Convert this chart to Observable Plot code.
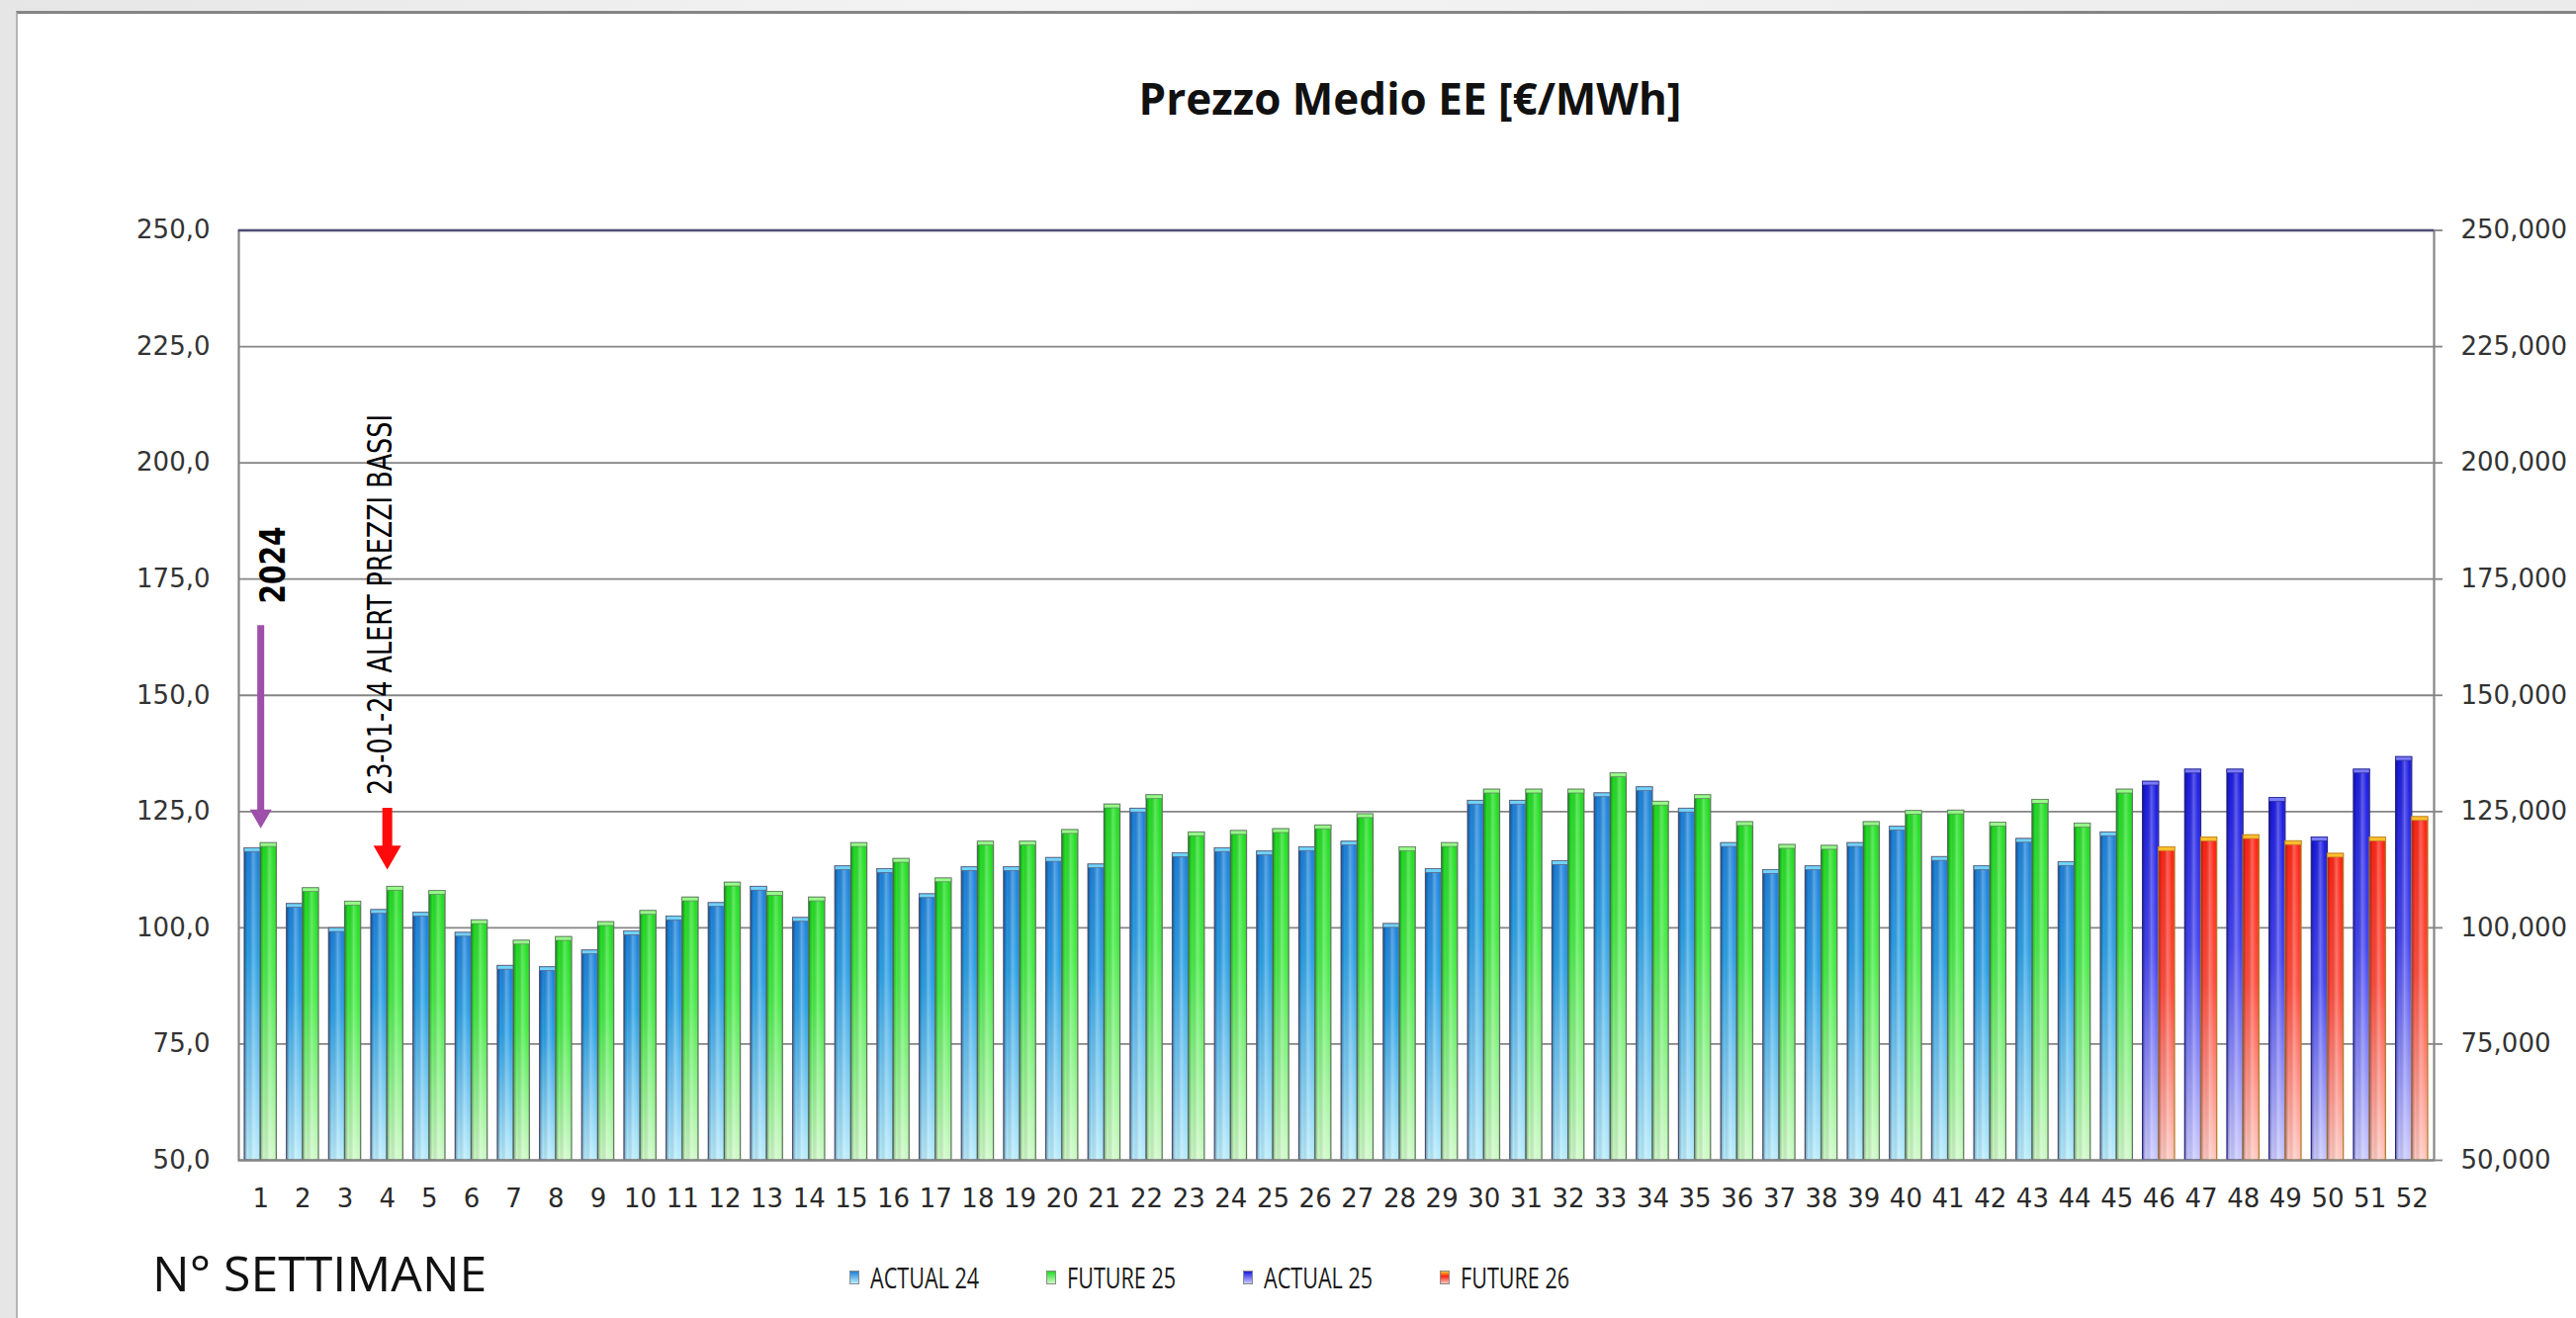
<!DOCTYPE html>
<html>
<head>
<meta charset="utf-8">
<script src="https://cdn.jsdelivr.net/npm/d3@7"></script>
<script src="https://cdn.jsdelivr.net/npm/@observablehq/plot@0.6"></script>
<style>
  html, body { margin: 0; padding: 0; background: #fff; }
  #page { position: relative; width: 2605px; height: 1333px; overflow: hidden;
          background: linear-gradient(90deg, #e6e6e6, #f4f4f4 40%, #ebebeb); }
  #frame { position: absolute; left: 16px; top: 11px; width: 2620px; height: 1400px;
           background: #fff; border-top: 3px solid #858585; border-left: 2px solid #b4b4b4; }
  #chart { position: absolute; left: 0; top: 0; }
  #title { position: absolute; left: 1426px; top: 77px; transform: translateX(-50%);
           font: 700 44px "Open Sans", sans-serif; line-height: 1; white-space: nowrap; color: #111; }
  #xlabel { position: absolute; left: 154px; top: 1262px; font: 400 50px "Open Sans", sans-serif;
            line-height: 1; white-space: nowrap; color: #111; }
  #legend { position: absolute; left: 859px; top: 1277px; display: flex;
            font: 400 30px "Open Sans", sans-serif; line-height: 1; color: #1a1a1a; }
  #legend .item { flex: none; width: 199px; display: flex; align-items: center; white-space: nowrap; }
  #legend .sw { flex: none; display: inline-block; width: 10px; height: 14px; margin-right: 11px;
                border: 1px solid #8a8a8a; box-sizing: border-box; }
  #legend .tx { display: inline-block; transform: scaleX(0.72); transform-origin: left center; }
</style>
</head>
<body>
<svg width="0" height="0" style="position:absolute">
  <defs>
    <linearGradient id="gA24" x1="0" y1="0" x2="0" y2="1">
      <stop offset="0" stop-color="#1c80da"/>
      <stop offset="0.35" stop-color="#2aa0e6"/>
      <stop offset="1" stop-color="#b8ecfc"/>
    </linearGradient>
    <linearGradient id="gF25" x1="0" y1="0" x2="0" y2="1">
      <stop offset="0" stop-color="#1fdd1f"/>
      <stop offset="0.4" stop-color="#46ec46"/>
      <stop offset="1" stop-color="#cff9c8"/>
    </linearGradient>
    <linearGradient id="gA25" x1="0" y1="0" x2="0" y2="1">
      <stop offset="0" stop-color="#1a1ae2"/>
      <stop offset="0.45" stop-color="#4444f0"/>
      <stop offset="1" stop-color="#c9c9ff"/>
    </linearGradient>
    <linearGradient id="gF26" x1="0" y1="0" x2="0" y2="1">
      <stop offset="0" stop-color="#ff2212"/>
      <stop offset="0.45" stop-color="#ff4b3b"/>
      <stop offset="1" stop-color="#ffc8c0"/>
    </linearGradient>
    <linearGradient id="shine" x1="0" y1="0" x2="1" y2="0">
      <stop offset="0" stop-color="#000030" stop-opacity="0.35"/>
      <stop offset="0.22" stop-color="#000000" stop-opacity="0"/>
      <stop offset="0.55" stop-color="#ffffff" stop-opacity="0.28"/>
      <stop offset="0.85" stop-color="#ffffff" stop-opacity="0"/>
      <stop offset="1" stop-color="#000000" stop-opacity="0.15"/>
    </linearGradient>
  </defs>
</svg>
<div id="page">
  <div id="frame"></div>
  <div id="chart"></div>
  <div id="title">Prezzo Medio EE [€/MWh]</div>
  <div id="xlabel">N° SETTIMANE</div>
  <div id="legend"></div>
</div>
<script>
// ---- data ----
const weeks = [1,2,3,4,5,6,7,8,9,10,11,12,13,14,15,16,17,18,19,20,21,22,23,24,25,26,
               27,28,29,30,31,32,33,34,35,36,37,38,39,40,41,42,43,44,45,46,47,48,49,50,51,52];
const actual24 = [117.1,105.1,99.9,103.8,103.2,98.9,91.8,91.5,95.1,99.2,102.4,105.3,108.8,102.1,113.2,
                  112.6,107.2,113.0,113.0,115.0,113.6,125.6,116.0,117.1,116.4,117.3,118.5,100.8,112.6,127.3,
                  127.3,114.3,128.9,130.2,125.6,118.2,112.4,113.2,118.2,121.7,115.2,113.2,119.1,114.1,120.5];
const future25 = [118.2,108.5,105.6,108.8,107.9,101.6,97.2,98.0,101.2,103.6,106.5,109.7,107.7,106.5,118.2,
                  114.8,110.6,118.5,118.5,121.0,126.5,128.5,120.5,120.8,121.2,122.0,124.4,117.3,118.2,129.7,
                  129.7,129.7,133.2,127.1,128.5,122.7,117.8,117.6,122.7,125.1,125.2,122.6,127.5,122.4,129.7];
const actual25 = [131.4,134.0,134.0,127.9,119.4,134.0,136.7];
const future26 = [117.3,119.4,119.9,118.6,115.9,119.4,123.8];
const seriesNames = ["ACTUAL 24", "FUTURE 25", "ACTUAL 25", "FUTURE 26"];
const yTicks = [50,75,100,125,150,175,200,225,250];
const noteYear = [{week: 1, value: 178, label: "2024"}];
const noteAlert = [{week: 4, value: 169.5, label: "23-01-24 ALERT PREZZI BASSI"}];
const arrowYear = [{week: 1, from: 165, to: 121.4}];
const arrowAlert = [{week: 4, from: 125.7, to: 112.5}];

// ---- tables ----
const rows = (vals, offset) => vals.map((v, i) => ({week: weeks[offset + i], value: v}));
const dA24 = rows(actual24, 0);
const dF25 = rows(future25, 0);
const dA25 = rows(actual25, actual24.length);
const dF26 = rows(future26, future25.length);

const HALF = 16.2;
function bars(data, side, grad, stroke, cap) {
  const inset = side === "left" ? {insetRight: HALF} : {insetLeft: HALF};
  return [
    Plot.barY(data, {x: "week", y1: 50, y2: "value", fill: `url(#${grad})`, stroke, strokeWidth: 1.2, ...inset}),
    Plot.barY(data, {x: "week", y1: 50, y2: "value", fill: "url(#shine)", ...inset}),
    Plot.barY(data, {x: "week", y1: d => d.value - 0.8, y2: "value", fill: cap, stroke, strokeWidth: 0.7, ...inset})
  ];
}

const narrow = "'Liberation Sans Narrow', 'Arial Narrow', 'DejaVu Sans Condensed', sans-serif";
const fmtLeft = d => d.toFixed(1).replace(".", ",");
const fmtRight = d => d + ",000";

const chart = Plot.plot({
  width: 2605,
  height: 1250,
  marginTop: 232.5,
  marginBottom: 77,
  marginLeft: 241,
  marginRight: 144,
  style: {background: "transparent", fontFamily: "'DejaVu Sans', Verdana, sans-serif", fontSize: "26px", color: "#333"},
  x: {type: "band", domain: weeks, paddingInner: 0.24, paddingOuter: 0.14, align: 0.5},
  y: {domain: [50, 250]},
  marks: [
    Plot.gridY(yTicks, {stroke: "#858585", strokeOpacity: 1, strokeWidth: 1.8}),
    ...bars(dA24, "left", "gA24", "#5f5f78", "#6fd4ff"),
    ...bars(dF25, "right", "gF25", "#667d66", "#96ff88"),
    ...bars(dA25, "left", "gA25", "#2a2a90", "#7a7aff"),
    ...bars(dF26, "right", "gF26", "#c08628", "#ffbf2a"),
    Plot.frame({stroke: "#858585", strokeWidth: 2.2}),
    Plot.ruleY([250], {stroke: "#4f4f78", strokeWidth: 2.4}),
    Plot.axisX({tickSize: 0, tickPadding: 29, label: null, fill: "#2a2a2a"}),
    Plot.axisY(yTicks, {anchor: "left", tickSize: 0, tickPadding: 29, tickFormat: fmtLeft, label: null, fill: "#333"}),
    Plot.axisY(yTicks, {anchor: "right", tickSize: 8, tickPadding: 19, tickFormat: fmtRight, label: null,
                        stroke: "#858585", strokeWidth: 1.8, fill: "#333"}),
    // annotations
    Plot.ruleX(arrowYear, {x: "week", y1: "from", y2: "to", stroke: "#9d4fa9", strokeWidth: 7, insetBottom: 10}),
    Plot.dot(arrowYear, {x: "week", y: "to", symbol: "triangle", r: 8.2, rotate: 180, dy: -12.7, fill: "#9d4fa9", stroke: "none"}),
    Plot.ruleX(arrowAlert, {x: "week", y1: "from", y2: "to", stroke: "#ff0a0a", strokeWidth: 10, insetBottom: 14}),
    Plot.dot(arrowAlert, {x: "week", y: "to", symbol: "triangle", r: 10.4, rotate: 180, dy: -16.2, fill: "#ff0a0a", stroke: "none"}),
    Plot.text(noteYear, {x: "week", y: "value", text: "label", rotate: -90, dx: 13, fontSize: 36, fontWeight: "bold",
                         fontFamily: narrow, fill: "#000", className: "note-year"}),
    Plot.text(noteAlert, {x: "week", y: "value", text: "label", rotate: -90, dx: -6, fontSize: 33,
                          fontFamily: narrow, fill: "#000", className: "note-alert"})
  ]
});
// squeeze the annotation text to the narrow proportions of the original
chart.querySelectorAll(".note-year text").forEach(t => {
  t.setAttribute("textLength", 78); t.setAttribute("lengthAdjust", "spacingAndGlyphs");
});
chart.querySelectorAll(".note-alert text").forEach(t => {
  t.setAttribute("textLength", 385); t.setAttribute("lengthAdjust", "spacingAndGlyphs");
});
document.getElementById("chart").appendChild(chart);

// ---- legend ----
const swatchCss = {
  "ACTUAL 24": "linear-gradient(#1c80da, #b8ecfc)",
  "FUTURE 25": "linear-gradient(#1fdd1f, #cff9c8)",
  "ACTUAL 25": "linear-gradient(#1a1ae2, #c9c9ff)",
  "FUTURE 26": "linear-gradient(#ffbf2a, #ff2212 40%, #ffc8c0)"
};
const legend = document.getElementById("legend");
for (const name of seriesNames) {
  const item = document.createElement("div");
  item.className = "item";
  const sw = document.createElement("span");
  sw.className = "sw";
  sw.style.background = swatchCss[name];
  const tx = document.createElement("span");
  tx.className = "tx";
  tx.textContent = name;
  item.appendChild(sw);
  item.appendChild(tx);
  legend.appendChild(item);
}
</script>
</body>
</html>
